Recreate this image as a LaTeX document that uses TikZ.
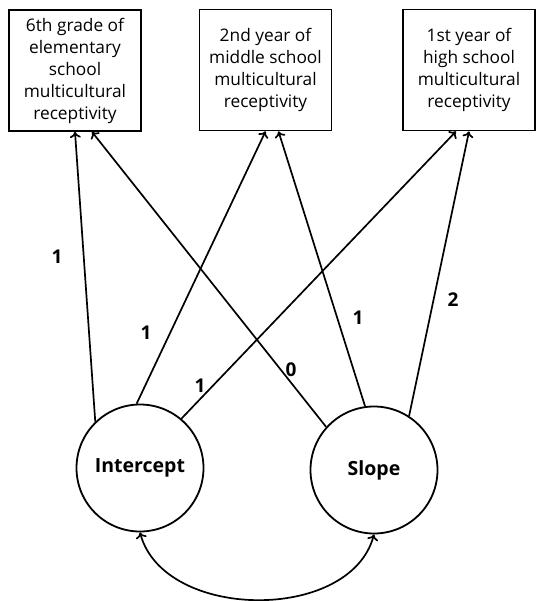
\documentclass[tikz,border=0pt]{standalone}
\usepackage{fontspec}
\setmainfont{Open Sans}
\usetikzlibrary{positioning}
\usetikzlibrary{arrows.meta}
\pgfdeclarelayer{background}
\pgfdeclarelayer{foreground}
\pgfsetlayers{background,main,foreground}

\begin{document}
\begin{tikzpicture}[x=1pt,y=-1pt,
				obsbox/.style={rectangle, draw=black, line width=1.8pt, fill=white, minimum width=132pt, minimum height=121pt, align=center, inner sep=0pt, font=\fontsize{17.3}{22}\selectfont},
				latnode/.style={circle, draw=black, line width=1.8pt, fill=white, minimum size=127pt, inner sep=0pt, font=\fontsize{19.5}{22}\selectfont\bfseries},
				loadlabel/.style={font=\fontsize{19}{22}\selectfont\bfseries},
				loadline/.style={line width=1.7pt, -{To[length=6pt,width=11pt]}},
				]
				\useasboundingbox (0,0) rectangle (536,601);
				%Nodes
				\node[obsbox]      (g6) 	at 	(75,70.5)           {6th grade of\\elementary\\school\\multicultural\\receptivity};
				\node[obsbox]      (m2) 	at 	(265.5,70)          {2nd year of\\middle school\\multicultural\\receptivity};
				\node[obsbox]      (h1) 	at 	(469,70)            {1st year of\\high school\\multicultural\\receptivity};
				\node[latnode]     (icpt) 	at 	(140,468)           {Intercept};
				\node[latnode]     (slope) 	at 	(374,470)           {Slope};
				
				%Labels
				\node[loadlabel]   (l1) 	at 	(57,257)            {1};
				\node[loadlabel]   (l2) 	at 	(146,333)           {1};
				\node[loadlabel]   (l3) 	at 	(200,386)           {1};
				\node[loadlabel]   (l4) 	at 	(291,370)           {0};
				\node[loadlabel]   (l5) 	at 	(358,318)           {1};
				\node[loadlabel]   (l6) 	at 	(453,300)           {2};
				
				\begin{pgfonlayer}{background}
				%Lines
				\draw[loadline] (icpt.134) -- (g6.south);
				\draw[loadline] (icpt.93) -- (m2.south);
				\draw[loadline] (icpt.50) -- ([xshift=-13pt]h1.south);
				\draw[loadline] (slope.138) -- ([xshift=17pt]g6.south);
				\draw[loadline] (slope.98) -- ([xshift=13pt]m2.south);
				\draw[loadline] (slope.57) -- (h1.south);
				\end{pgfonlayer}
				
				\draw[line width=1.7pt, {To[length=6pt,width=11pt]}-{To[length=6pt,width=11pt]}] (icpt.south) to[out=-75, in=-105] (slope.south);
			\end{tikzpicture}
\end{document}
